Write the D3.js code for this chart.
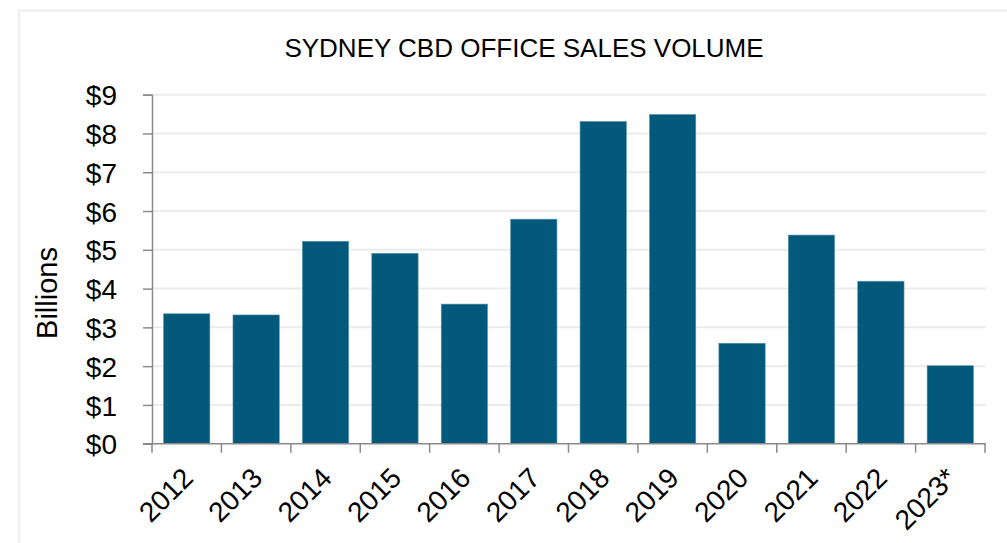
<!DOCTYPE html>
<html>
<head>
<meta charset="utf-8">
<script src="https://cdn.jsdelivr.net/npm/d3@7"></script>
<style>
  body { margin: 0; background: #fff; }
  text { font-family: "Liberation Sans", Arial, Helvetica, sans-serif; fill: #000; }
</style>
</head>
<body>
<div id="chart"></div>
<script>
// data
var years = ["2012", "2013", "2014", "2015", "2016", "2017", "2018", "2019", "2020", "2021", "2022", "2023*"];
var volumes = [3.35, 3.32, 5.22, 4.91, 3.6, 5.79, 8.31, 8.49, 2.59, 5.38, 4.19, 2.01];
var yTicks = [0, 1, 2, 3, 4, 5, 6, 7, 8, 9];

var width = 1007, height = 543;
var plotLeft = 152, plotRight = 985, plotTop = 94.7, plotBottom = 443.7;

var svg = d3.select("#chart").append("svg")
  .attr("width", width)
  .attr("height", height);

// light frame round the chart
svg.append("rect")
  .attr("x", 19).attr("y", 10.5)
  .attr("width", width + 20).attr("height", height + 20)
  .attr("fill", "none")
  .attr("stroke", "#f1f1f1")
  .attr("stroke-width", 3);

var x = d3.scaleBand()
  .domain(years)
  .range([plotLeft, plotRight])
  .paddingInner(0.333)
  .paddingOuter(0.1665);

var y = d3.scaleLinear()
  .domain([0, 9])
  .range([plotBottom, plotTop]);

// gridlines
svg.append("g")
  .selectAll("line")
  .data(yTicks.slice(1))
  .enter()
  .append("line")
    .attr("x1", plotLeft).attr("x2", plotRight + 1)
    .attr("y1", function(d) { return y(d); })
    .attr("y2", function(d) { return y(d); })
    .attr("stroke", "#ececec")
    .attr("stroke-width", 2);

// bars
svg.append("g")
  .selectAll("rect")
  .data(volumes)
  .enter()
  .append("rect")
    .attr("x", function(d, i) { return x(years[i]); })
    .attr("y", function(d) { return y(d); })
    .attr("width", x.bandwidth())
    .attr("height", function(d) { return plotBottom - y(d); })
    .attr("fill", "#03597b")
    .attr("stroke", "#5a93ad")
    .attr("stroke-width", 0.6);

// y axis
var yAxis = svg.append("g")
  .attr("transform", "translate(" + plotLeft + ",0)")
  .call(d3.axisLeft(y).tickValues(yTicks).tickSize(9)
    .tickFormat(function(d) { return "$" + d; }));
yAxis.select(".domain").attr("stroke", "#8a8a8a").attr("stroke-width", 1.5);
yAxis.selectAll(".tick line").attr("stroke", "#8a8a8a").attr("stroke-width", 1.5);
yAxis.selectAll(".tick text")
  .style("font-size", "28px")
  .attr("font-family", null)
  .attr("fill", "#000")
  .attr("dy", "0.36em")
  .attr("text-anchor", "end")
  .attr("x", -35);

// x axis: ticks sit on the band edges
var edges = years.map(function(d) { return x(d) - x.step() * x.paddingInner() / 2; });
edges.push(plotRight);

var xAxis = svg.append("g");
xAxis.append("line")
  .attr("x1", plotLeft - 9).attr("x2", plotRight + 1)
  .attr("y1", plotBottom).attr("y2", plotBottom)
  .attr("stroke", "#8a8a8a").attr("stroke-width", 1.5);
xAxis.selectAll(".edge")
  .data(edges)
  .enter()
  .append("line")
    .attr("class", "edge")
    .attr("x1", function(d) { return d; }).attr("x2", function(d) { return d; })
    .attr("y1", plotBottom).attr("y2", plotBottom + 9)
    .attr("stroke", "#8a8a8a").attr("stroke-width", 1.5);

xAxis.selectAll(".lab")
  .data(years)
  .enter()
  .append("text")
    .attr("class", "lab")
    .attr("text-anchor", "end")
    .style("font-size", "28px")
    .attr("transform", function(d) {
      var cx = x(d) + x.bandwidth() / 2 + 8;
      return "translate(" + cx + "," + (plotBottom + 36) + ") rotate(-45)";
    })
    .text(function(d) { return d; });

// y label
svg.append("text")
  .attr("transform", "translate(57,293) rotate(-90)")
  .attr("text-anchor", "middle")
  .style("font-size", "29px")
  .text("Billions");

// title
svg.append("text")
  .attr("x", 524)
  .attr("y", 56.5)
  .attr("text-anchor", "middle")
  .style("font-size", "26px")
  .text("SYDNEY CBD OFFICE SALES VOLUME");
</script>
</body>
</html>
